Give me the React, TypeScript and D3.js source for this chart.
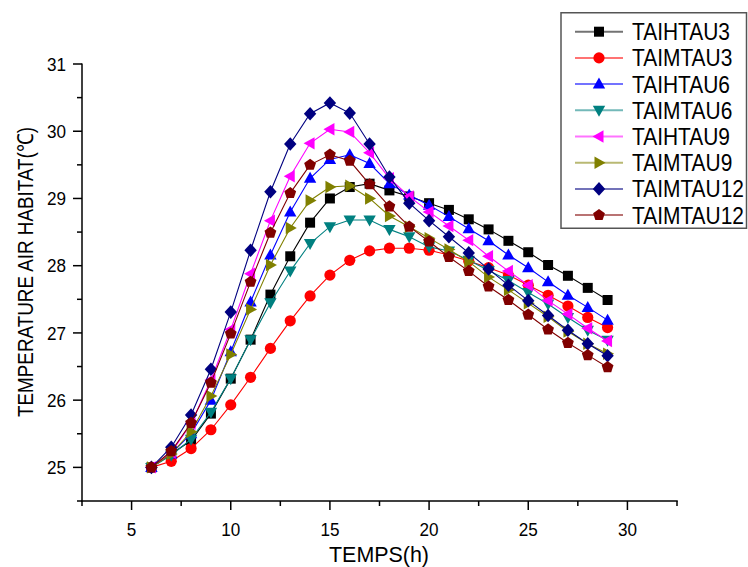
import React, { useEffect, useRef } from "react";
import * as d3 from "d3";

const hours = [6, 7, 8, 9, 10, 11, 12, 13, 14, 15, 16, 17, 18, 19, 20, 21, 22, 23, 24, 25, 26, 27, 28, 29];

const taihtau3 = [25.0, 25.2, 25.4, 25.8, 26.32, 26.9, 27.57, 28.14, 28.64, 29.0, 29.17, 29.22, 29.12, 29.03, 28.93, 28.83, 28.69, 28.54, 28.37, 28.2, 28.01, 27.85, 27.67, 27.49];
const taimtau3 = [25.0, 25.09, 25.28, 25.56, 25.93, 26.34, 26.77, 27.18, 27.55, 27.86, 28.08, 28.22, 28.26, 28.26, 28.23, 28.16, 28.07, 27.97, 27.86, 27.71, 27.56, 27.4, 27.23, 27.08];
const taihtau6 = [25.0, 25.2, 25.5, 26.0, 26.72, 27.46, 28.16, 28.8, 29.3, 29.58, 29.65, 29.52, 29.22, 29.05, 28.9, 28.73, 28.55, 28.37, 28.16, 27.97, 27.76, 27.56, 27.38, 27.19];
const taimtau6 = [25.0, 25.18, 25.42, 25.82, 26.32, 26.9, 27.45, 27.92, 28.33, 28.58, 28.68, 28.68, 28.54, 28.43, 28.28, 28.22, 28.08, 27.93, 27.78, 27.6, 27.43, 27.23, 27.04, 26.89];
const taihtau9 = [25.0, 25.22, 25.65, 26.3, 27.05, 27.88, 28.67, 29.33, 29.82, 30.03, 29.99, 29.68, 29.3, 29.03, 28.8, 28.59, 28.38, 28.14, 27.92, 27.71, 27.48, 27.28, 27.07, 26.88];
const taimtau9 = [25.0, 25.2, 25.53, 26.06, 26.68, 27.35, 28.01, 28.56, 28.97, 29.17, 29.19, 29.0, 28.74, 28.58, 28.41, 28.24, 28.06, 27.83, 27.64, 27.44, 27.24, 27.02, 26.84, 26.69];
const taimtau12a = [25.0, 25.3, 25.78, 26.46, 27.31, 28.23, 29.1, 29.81, 30.26, 30.42, 30.27, 29.81, 29.32, 28.93, 28.67, 28.43, 28.19, 27.95, 27.71, 27.48, 27.26, 27.04, 26.84, 26.66];
const taimtau12b = [25.0, 25.24, 25.66, 26.26, 26.99, 27.76, 28.49, 29.08, 29.5, 29.65, 29.56, 29.21, 28.88, 28.58, 28.36, 28.13, 27.92, 27.69, 27.49, 27.27, 27.05, 26.85, 26.67, 26.49];

const seriesNames = ["TAIHTAU3", "TAIMTAU3", "TAIHTAU6", "TAIMTAU6", "TAIHTAU9", "TAIMTAU9", "TAIMTAU12", "TAIMTAU12"];
const seriesValues = [taihtau3, taimtau3, taihtau6, taimtau6, taihtau9, taimtau9, taimtau12a, taimtau12b];
const seriesColors = ["#000000", "#FF0000", "#0000FF", "#008080", "#FF00FF", "#808000", "#000080", "#800000"];
const seriesMarkers = ["square", "circle", "up", "down", "left", "right", "diamond", "pentagon"];

const xMajorTicks = [5, 10, 15, 20, 25, 30];
const yMajorTicks = [25, 26, 27, 28, 29, 30, 31];

function markerPath(kind: string): string {
  const poly = (pts: number[][]) => "M" + pts.map((p) => p.join(",")).join("L") + "Z";
  switch (kind) {
    case "square":
      return poly([[-5, -5], [5, -5], [5, 5], [-5, 5]]);
    case "circle":
      return "M5.6,0A5.6,5.6,0,1,1,-5.6,0A5.6,5.6,0,1,1,5.6,0Z";
    case "up":
      return poly([[0, -6.5], [6.2, 4.5], [-6.2, 4.5]]);
    case "down":
      return poly([[0, 6.5], [6.2, -4.5], [-6.2, -4.5]]);
    case "left":
      return poly([[-6.5, 0], [4.5, -6.2], [4.5, 6.2]]);
    case "right":
      return poly([[6.5, 0], [-4.5, -6.2], [-4.5, 6.2]]);
    case "diamond":
      return poly([[0, -6.8], [6.2, 0], [0, 6.8], [-6.2, 0]]);
    case "pentagon": {
      const pts: number[][] = [];
      for (let k = 0; k < 5; k++) {
        const a = -Math.PI / 2 + (k * 2 * Math.PI) / 5;
        pts.push([+(6.2 * Math.cos(a)).toFixed(2), +(6.2 * Math.sin(a)).toFixed(2)]);
      }
      return poly(pts);
    }
  }
  return "";
}

export default function App() {
  const ref = useRef<SVGSVGElement | null>(null);

  useEffect(() => {
    const svg = d3.select(ref.current);
    svg.selectAll("*").remove();

    const x = d3.scaleLinear().domain([2.5, 32.5]).range([82, 677]);
    const y = d3.scaleLinear().domain([24.5, 31]).range([501, 64]);
    const font = "'Liberation Sans', Arial, sans-serif";

    const plot = svg.append("g");
    const line = d3
      .line<number>()
      .x((_, i) => x(hours[i]))
      .y((d) => y(d));

    seriesValues.forEach((vals, si) => {
      const g = plot.append("g");
      g.append("path")
        .attr("d", line(vals) || "")
        .attr("fill", "none")
        .attr("stroke", seriesColors[si])
        .attr("stroke-width", 1.1);
      g.selectAll("path.m")
        .data(vals)
        .enter()
        .append("path")
        .attr("class", "m")
        .attr("d", markerPath(seriesMarkers[si]))
        .attr("transform", (d, i) => `translate(${x(hours[i])},${y(d)})`)
        .attr("fill", seriesColors[si]);
    });

    // Axes
    const ax = svg.append("g").attr("stroke", "#000").attr("stroke-width", 1.5);
    ax.append("line").attr("x1", 82).attr("x2", 82).attr("y1", 63.5).attr("y2", 501.75);
    ax.append("line").attr("x1", 81.25).attr("x2", 677.75).attr("y1", 501).attr("y2", 501);

    const xMinor = d3.range(2.5, 32.6, 5);
    xMajorTicks.forEach((t) => {
      ax.append("line").attr("x1", x(t)).attr("x2", x(t)).attr("y1", 501).attr("y2", 510);
    });
    xMinor.forEach((t) => {
      ax.append("line").attr("x1", x(t)).attr("x2", x(t)).attr("y1", 501).attr("y2", 506);
    });
    yMajorTicks.forEach((t) => {
      ax.append("line").attr("x1", 82).attr("x2", 73).attr("y1", y(t)).attr("y2", y(t));
    });
    d3.range(24.5, 31, 1).forEach((t) => {
      ax.append("line").attr("x1", 82).attr("x2", 77).attr("y1", y(t)).attr("y2", y(t));
    });

    const tl = svg.append("g").attr("font-family", font).attr("font-size", 18).attr("fill", "#000");
    xMajorTicks.forEach((t) => {
      tl.append("text")
        .attr("transform", `translate(${x(t)},536) scale(0.95,1.05)`)
        .attr("text-anchor", "middle")
        .text(String(t));
    });
    yMajorTicks.forEach((t) => {
      tl.append("text")
        .attr("transform", `translate(66,${y(t) + 6.8}) scale(0.95,1.05)`)
        .attr("text-anchor", "end")
        .text(String(t));
    });

    svg
      .append("text")
      .attr("font-family", font)
      .attr("font-size", 22)
      .attr("x", 379)
      .attr("y", 562)
      .attr("text-anchor", "middle")
      .attr("textLength", 100)
      .attr("lengthAdjust", "spacingAndGlyphs")
      .text("TEMPS(h)");

    svg
      .append("text")
      .attr("font-family", font)
      .attr("font-size", 22)
      .attr("transform", "translate(33,272) rotate(-90)")
      .attr("text-anchor", "middle")
      .attr("textLength", 290)
      .attr("lengthAdjust", "spacingAndGlyphs")
      .text("TEMPERATURE AIR HABITAT(℃)");

    // Legend
    const lg = svg.append("g");
    lg.append("rect")
      .attr("x", 561)
      .attr("y", 12.75)
      .attr("width", 185.5)
      .attr("height", 215.5)
      .attr("fill", "#fff")
      .attr("stroke", "#555")
      .attr("stroke-width", 1.5);
    seriesNames.forEach((name, i) => {
      const cy = 31.7 + i * 26.2;
      lg.append("line")
        .attr("x1", 575)
        .attr("x2", 623)
        .attr("y1", cy)
        .attr("y2", cy)
        .attr("stroke", seriesColors[i])
        .attr("stroke-opacity", 0.55)
        .attr("stroke-width", 2);
      lg.append("path")
        .attr("d", markerPath(seriesMarkers[i]))
        .attr("transform", `translate(599,${cy})`)
        .attr("fill", seriesColors[i]);
      lg.append("text")
        .attr("transform", `translate(632,${cy + 8.4}) scale(0.91,1)`)
        .attr("font-family", font)
        .attr("font-size", 23)
        .attr("fill", "#000")
        .text(name);
    });
  }, []);

  return (
    <div style={{ position: "absolute", left: 0, top: 0 }}>
      <svg ref={ref} width={748} height={567} style={{ display: "block", background: "#fff" }} />
    </div>
  );
}
